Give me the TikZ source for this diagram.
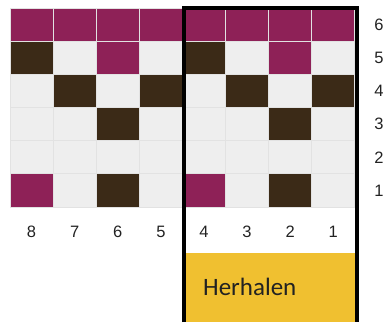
\documentclass[tikz,border=0pt]{standalone}
\usepackage{fontspec}
\setmainfont{Liberation Sans}
\newfontfamily\calfont{Carlito}
\usepackage{tikz}
\usetikzlibrary{positioning}
\definecolor{c0}{HTML}{EEEEEE}
\definecolor{c1}{HTML}{8E2157}
\definecolor{c2}{HTML}{3B2A17}
\definecolor{gridc}{HTML}{E2E2E2}
\definecolor{herc}{HTML}{F0C030}
\definecolor{txtc}{HTML}{222222}
\tikzset{
  cell/.style={draw=gridc,line width=0.8pt,minimum width=43.1pt,minimum height=33.17pt,inner sep=0pt,outer sep=0pt},
  lbl/.style={font=\fontsize{16.5}{16.5}\selectfont,text=txtc,inner sep=0pt},
  frame/.style={draw=black,line width=4pt},
  herbox/.style={fill=herc,minimum width=170pt,minimum height=69pt,inner sep=0pt,anchor=north west}
}
\begin{document}
\begin{tikzpicture}[x=1pt,y=-1pt]
\useasboundingbox (0,0) rectangle (386,322);
% stitch grid, rows 6 (top) to 1
\foreach \r/\cells in {6/{1,1,1,1,1,1,1,1},5/{2,0,1,0,2,0,1,0},4/{0,2,0,2,0,2,0,2},
                       3/{0,0,2,0,0,0,2,0},2/{0,0,0,0,0,0,0,0},1/{1,0,2,0,1,0,2,0}}{
  \foreach \v [count=\c] in \cells{
    \node[cell,fill=c\v] (s-\r-\c) at ({10+(\c-0.5)*43.1},{8+(6-\r+0.5)*33.17}) {};
  }
  \node[lbl] (row-\r) at (379,{8+(6-\r+0.5)*33.17}) {\r};
}
% column numbers
\foreach \c [evaluate=\c as \n using {int(9-\c)}] in {1,...,8}{
  \node[lbl] (col-\c) at ({10+(\c-0.5)*43.1},232) {\n};
}
% repeat box
\node[herbox] (her) at (185,253) {};
\node[font=\calfont\fontsize{25}{25}\selectfont,text=txtc,anchor=west,inner sep=0pt] (hertxt) at (203,287) {Herhalen};
\draw[frame] (184,322) -- (184,8) -- (356.5,8) -- (356.5,322);
\end{tikzpicture}
\end{document}
